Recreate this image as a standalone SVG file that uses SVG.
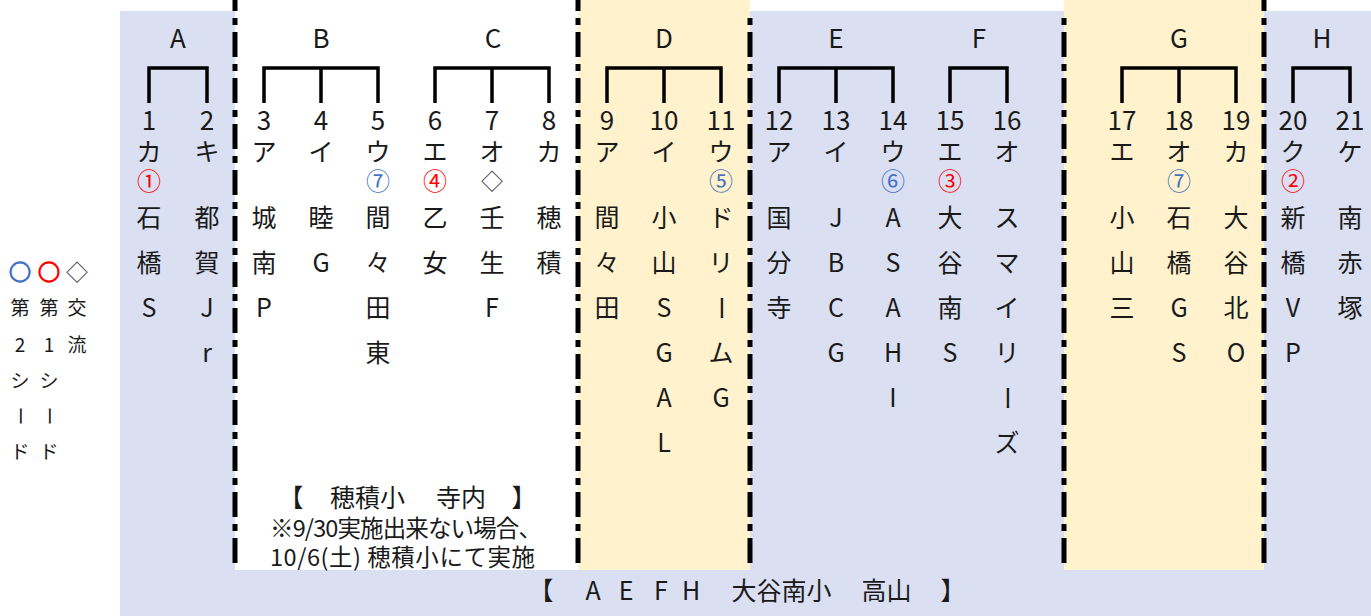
<svg xmlns="http://www.w3.org/2000/svg" width="1371" height="616" viewBox="0 0 1371 616">
<style>
.t{font-family:"Noto Sans CJK JP","Noto Sans",sans-serif;font-size:25px;fill:#1a1a1a;text-anchor:middle}
.h{font-size:26px}
.n{font-size:26px}
.c{font-size:24px}
.red{fill:#ff0000}
.blue{fill:#4472c4}
.lg{font-size:19px}
.ring{font-size:22px;stroke-width:1.3}
.br{fill:none;stroke:#000;stroke-width:3.5;stroke-linejoin:miter}
.dash{stroke:#000;stroke-width:5;stroke-dasharray:25 7 7 7}
.bt{font-family:"Noto Sans CJK JP","Noto Sans",sans-serif;font-size:23.5px;fill:#1a1a1a}
</style>
<rect width="1371" height="616" fill="#fff"/>
<g id="background">
<rect x="120" y="11" width="1251" height="605" fill="#dadff2"/>
<rect x="235" y="0" width="343" height="570" fill="#fff"/>
<rect x="578" y="0" width="172" height="570" fill="#fff2cc"/>
<rect x="1064" y="0" width="200" height="570" fill="#fff2cc"/>
</g>
<g id="dividers">
<line class="dash" x1="235" y1="0" x2="235" y2="570" stroke-dashoffset="14"/>
<line class="dash" x1="578" y1="0" x2="578" y2="570" stroke-dashoffset="14"/>
<line class="dash" x1="750" y1="11" x2="750" y2="570" stroke-dashoffset="25"/>
<line class="dash" x1="1064" y1="11" x2="1064" y2="570" stroke-dashoffset="25"/>
<line class="dash" x1="1264" y1="0" x2="1264" y2="570" stroke-dashoffset="14"/>
</g>
<g id="legend">
<text x="20" y="280" class="t ring blue" stroke="#4472c4">○</text>
<text x="49" y="280" class="t ring red" stroke="#ff0000">○</text>
<text x="77" y="280" class="t" style="font-size:22px;fill:#404040">◇</text>
<text x="20" y="315" class="t lg">第</text>
<text x="20" y="352" class="t lg">2</text>
<text x="20" y="388" class="t lg">シ</text>
<text x="20" y="423" class="t lg" transform="rotate(90 20 416)">ー</text>
<text x="20" y="459" class="t lg">ド</text>
<text x="49" y="315" class="t lg">第</text>
<text x="49" y="352" class="t lg">1</text>
<text x="49" y="388" class="t lg">シ</text>
<text x="49" y="423" class="t lg" transform="rotate(90 49 416)">ー</text>
<text x="49" y="459" class="t lg">ド</text>
<text x="77" y="315" class="t lg">交</text>
<text x="77" y="352" class="t lg">流</text>
</g>
<g id="connectors">
<path class="br" d="M149,103V68H207V103"/>
<path class="br" d="M264,103V68H378V103M321,68V103"/>
<path class="br" d="M435,103V68H549V103M492,68V103"/>
<path class="br" d="M607,103V68H721V103M664,68V103"/>
<path class="br" d="M779,103V68H893V103M836,68V103"/>
<path class="br" d="M950,103V68H1007V103"/>
<path class="br" d="M1122,103V68H1236V103M1179,68V103"/>
<path class="br" d="M1293,103V68H1350V103"/>
</g>
<g id="block-A"><text class="t h" x="178" y="48">A</text></g>
<g id="block-B"><text class="t h" x="321" y="48">B</text></g>
<g id="block-C"><text class="t h" x="493" y="48">C</text></g>
<g id="block-D"><text class="t h" x="664" y="48">D</text></g>
<g id="block-E"><text class="t h" x="836" y="48">E</text></g>
<g id="block-F"><text class="t h" x="979" y="48">F</text></g>
<g id="block-G"><text class="t h" x="1179" y="48">G</text></g>
<g id="block-H"><text class="t h" x="1322" y="48">H</text></g>

<g id="team-1" class="t"><text class="t n" x="149" y="130">1</text><text x="149" y="161">カ</text><text x="149" y="190" class="t c red">①</text><text x="149" y="227">石</text><text x="149" y="272">橋</text><text x="149" y="317">S</text></g>
<g id="team-2" class="t"><text class="t n" x="207" y="130">2</text><text x="207" y="161">キ</text><text x="207" y="227">都</text><text x="207" y="272">賀</text><text x="207" y="317">J</text><text x="207" y="362">r</text></g>
<g id="team-3" class="t"><text class="t n" x="264" y="130">3</text><text x="264" y="161">ア</text><text x="264" y="227">城</text><text x="264" y="272">南</text><text x="264" y="317">P</text></g>
<g id="team-4" class="t"><text class="t n" x="321" y="130">4</text><text x="321" y="161">イ</text><text x="321" y="227">睦</text><text x="321" y="272">G</text></g>
<g id="team-5" class="t"><text class="t n" x="378" y="130">5</text><text x="378" y="161">ウ</text><text x="378" y="190" class="t c blue">⑦</text><text x="378" y="227">間</text><text x="378" y="272">々</text><text x="378" y="317">田</text><text x="378" y="362">東</text></g>
<g id="team-6" class="t"><text class="t n" x="435" y="130">6</text><text x="435" y="161">エ</text><text x="435" y="190" class="t c red">④</text><text x="435" y="227">乙</text><text x="435" y="272">女</text></g>
<g id="team-7" class="t"><text class="t n" x="492" y="130">7</text><text x="492" y="161">オ</text><text x="492" y="189" class="t" style="font-size:22px;fill:#404040">◇</text><text x="492" y="227">壬</text><text x="492" y="272">生</text><text x="492" y="317">F</text></g>
<g id="team-8" class="t"><text class="t n" x="549" y="130">8</text><text x="549" y="161">カ</text><text x="549" y="227">穂</text><text x="549" y="272">積</text></g>
<g id="team-9" class="t"><text class="t n" x="607" y="130">9</text><text x="607" y="161">ア</text><text x="607" y="227">間</text><text x="607" y="272">々</text><text x="607" y="317">田</text></g>
<g id="team-10" class="t"><text class="t n" x="664" y="130">10</text><text x="664" y="161">イ</text><text x="664" y="227">小</text><text x="664" y="272">山</text><text x="664" y="317">S</text><text x="664" y="362">G</text><text x="664" y="407">A</text><text x="664" y="452">L</text></g>
<g id="team-11" class="t"><text class="t n" x="721" y="130">11</text><text x="721" y="161">ウ</text><text x="721" y="190" class="t c blue">⑤</text><text x="721" y="227">ド</text><text x="721" y="272">リ</text><text x="721" y="317" transform="rotate(90 721 308)">ー</text><text x="721" y="362">ム</text><text x="721" y="407">G</text></g>
<g id="team-12" class="t"><text class="t n" x="779" y="130">12</text><text x="779" y="161">ア</text><text x="779" y="227">国</text><text x="779" y="272">分</text><text x="779" y="317">寺</text></g>
<g id="team-13" class="t"><text class="t n" x="836" y="130">13</text><text x="836" y="161">イ</text><text x="836" y="227">J</text><text x="836" y="272">B</text><text x="836" y="317">C</text><text x="836" y="362">G</text></g>
<g id="team-14" class="t"><text class="t n" x="893" y="130">14</text><text x="893" y="161">ウ</text><text x="893" y="190" class="t c blue">⑥</text><text x="893" y="227">A</text><text x="893" y="272">S</text><text x="893" y="317">A</text><text x="893" y="362">H</text><text x="893" y="407">I</text></g>
<g id="team-15" class="t"><text class="t n" x="950" y="130">15</text><text x="950" y="161">エ</text><text x="950" y="190" class="t c red">③</text><text x="950" y="227">大</text><text x="950" y="272">谷</text><text x="950" y="317">南</text><text x="950" y="362">S</text></g>
<g id="team-16" class="t"><text class="t n" x="1007" y="130">16</text><text x="1007" y="161">オ</text><text x="1007" y="227">ス</text><text x="1007" y="272">マ</text><text x="1007" y="317">イ</text><text x="1007" y="362">リ</text><text x="1007" y="407" transform="rotate(90 1007 398)">ー</text><text x="1007" y="452">ズ</text></g>
<g id="team-17" class="t"><text class="t n" x="1122" y="130">17</text><text x="1122" y="161">エ</text><text x="1122" y="227">小</text><text x="1122" y="272">山</text><text x="1122" y="317">三</text></g>
<g id="team-18" class="t"><text class="t n" x="1179" y="130">18</text><text x="1179" y="161">オ</text><text x="1179" y="190" class="t c blue">⑦</text><text x="1179" y="227">石</text><text x="1179" y="272">橋</text><text x="1179" y="317">G</text><text x="1179" y="362">S</text></g>
<g id="team-19" class="t"><text class="t n" x="1236" y="130">19</text><text x="1236" y="161">カ</text><text x="1236" y="227">大</text><text x="1236" y="272">谷</text><text x="1236" y="317">北</text><text x="1236" y="362">O</text></g>
<g id="team-20" class="t"><text class="t n" x="1293" y="130">20</text><text x="1293" y="161">ク</text><text x="1293" y="190" class="t c red">②</text><text x="1293" y="227">新</text><text x="1293" y="272">橋</text><text x="1293" y="317">V</text><text x="1293" y="362">P</text></g>
<g id="team-21" class="t"><text class="t n" x="1350" y="130">21</text><text x="1350" y="161">ケ</text><text x="1350" y="227">南</text><text x="1350" y="272">赤</text><text x="1350" y="317">塚</text></g>

<g id="venue-BC">
<text class="t" y="507"><tspan x="291">【</tspan><tspan x="367.5">穂積小</tspan><tspan x="461">寺内</tspan><tspan x="524">】</tspan></text>
<text class="bt" x="270" y="537" textLength="272">※9/30実施出来ない場合、</text>
<text class="bt" x="270" y="566" textLength="265">10/6(土) 穂積小にて実施</text>
</g>
<g id="venue-AEFH">
<text class="t" y="600" style="font-size:25px"><tspan x="541">【</tspan><tspan x="593">A</tspan><tspan x="626">E</tspan><tspan x="661">F</tspan><tspan x="691">H</tspan><tspan x="781.5">大谷南小</tspan><tspan x="886.5">高山</tspan><tspan x="953">】</tspan></text>
</g>
</svg>
